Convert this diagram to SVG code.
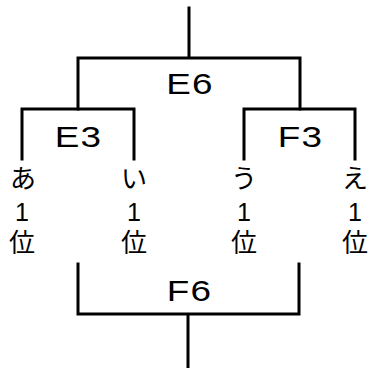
<svg xmlns="http://www.w3.org/2000/svg" width="373" height="368" viewBox="0 0 373 368">
<style>
.ln{fill:none;stroke:#000;stroke-width:3;stroke-linecap:square;stroke-linejoin:miter}
.big{font-family:"Liberation Sans",Arial,sans-serif;font-size:29.5px;letter-spacing:1px;fill:#000;text-anchor:middle}
.kana{font-family:"Liberation Sans","Noto Sans CJK JP",sans-serif;font-size:26px;fill:#000;text-anchor:middle}
.num{font-family:"Liberation Sans",Arial,sans-serif;font-size:25px;fill:#000;text-anchor:middle}
</style>
<rect width="373" height="368" fill="#fff"/>
<g id="connectors">
<path class="ln" d="M189 8V58M78 58H300M78 58V109M300 58V109"/>
<path class="ln" d="M22 109H134M22 109V159M134 109V159"/>
<path class="ln" d="M244 109H355M244 109V159M355 109V159"/>
<path class="ln" d="M78 264V314H299V264M188 314V367"/>
</g>
<g id="E6"><text class="big" transform="translate(190,94.3) scale(1.25,1)">E6</text></g>
<g id="E3"><text class="big" transform="translate(78.5,147) scale(1.25,1)">E3</text></g>
<g id="F3"><text class="big" transform="translate(300.5,147) scale(1.25,1)">F3</text></g>
<g id="F6"><text class="big" transform="translate(189.5,301) scale(1.25,1)">F6</text></g>
<g id="a"><text class="kana" x="23" y="188">あ</text><text class="num" x="22" y="221">1</text><text class="kana" x="22" y="252">位</text></g>
<g id="i"><text class="kana" x="134" y="188">い</text><text class="num" x="134" y="221">1</text><text class="kana" x="134" y="252">位</text></g>
<g id="u"><text class="kana" x="244" y="188">う</text><text class="num" x="244" y="221">1</text><text class="kana" x="244" y="252">位</text></g>
<g id="e"><text class="kana" x="355" y="188">え</text><text class="num" x="355" y="221">1</text><text class="kana" x="355" y="252">位</text></g>
</svg>
